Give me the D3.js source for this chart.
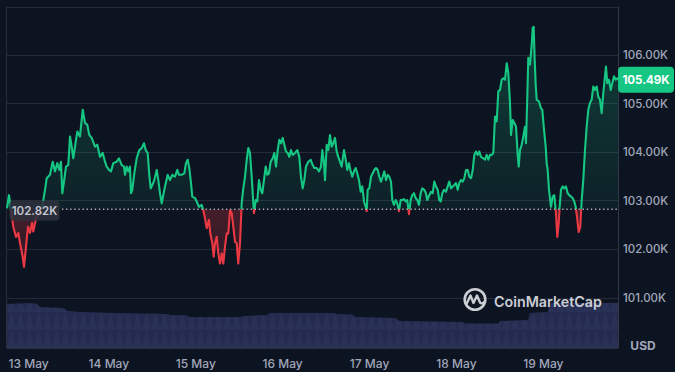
<!DOCTYPE html>
<html><head><meta charset="utf-8">
<script src="https://cdn.jsdelivr.net/npm/d3@7"></script>
<style>
html,body{margin:0;padding:0;background:#0d1421;}
svg{display:block;font-family:Inter,"Noto Sans",sans-serif;}
</style></head>
<body><svg id="chart" width="675" height="372"></svg>
<script>
// ---- data (hours since 12 May 20:00 UTC) ----
const startTime = Date.UTC(2025, 4, 12, 20, 0);
const endHour = 168.76;
const hours = [
0,0.55,1.10,1.74,2.49,3.12,3.78,4.34,4.70,5.25,
5.80,6.35,6.91,7.26,7.82,8.37,9.58,10.50,10.97,11.88,
12.62,13.26,13.89,14.45,14.91,15.27,15.74,16.30,16.93,17.40,
17.87,18.31,19.06,19.42,20.16,20.91,21.54,22.18,22.73,23.39,
24.31,24.94,25.69,26.43,27.07,27.54,28.17,28.72,29.36,30.30,
30.93,31.68,32.32,32.59,33.06,33.50,33.97,34.25,34.61,35.16,
35.82,36.54,37.20,37.84,38.31,38.86,39.30,39.69,40.13,40.68,
41.35,41.79,42.26,42.73,43.17,43.64,44.39,45.02,45.66,46.40,
47.04,47.51,48.25,48.97,49.44,49.91,50.35,50.82,51.18,51.93,
52.40,53.03,53.78,54.22,54.69,55.16,55.79,56.15,56.70,57.09,
57.45,57.92,58.36,58.83,59.30,59.74,60.21,60.68,61.12,61.59,
62.06,62.50,62.97,63.44,63.88,64.35,64.82,65.27,65.74,66.21,
66.65,67.12,67.59,68.03,68.22,68.69,69.13,69.60,70.07,70.51,
70.98,71.45,71.89,72.36,72.83,73.39,73.83,74.30,74.77,75.21,
75.68,76.15,76.59,77.06,77.53,77.97,78.44,78.91,79.55,80.18,
80.73,81.20,81.67,82.11,82.58,83.22,83.88,84.43,84.88,85.54,
86.18,86.73,87.09,87.56,87.83,88.30,88.74,89.21,89.68,90.12,
90.59,91.06,91.50,91.97,92.44,93.08,93.55,93.99,94.46,94.93,
95.37,95.84,96.31,96.75,97.22,97.69,98.13,98.60,99.07,99.35,
99.62,100.07,100.54,101.01,101.45,101.92,102.39,102.83,103.30,103.77,
104.21,104.68,105.15,105.59,106.06,106.42,106.89,107.36,107.80,108.27,
108.74,109.18,109.65,110.12,110.56,111.03,111.50,111.94,112.41,112.88,
113.32,113.79,114.26,114.70,115.25,115.72,116.08,116.64,117.11,117.58,
118.02,118.49,118.96,119.40,119.79,120.23,120.70,121.25,121.72,122.16,
122.63,123.10,123.55,124.01,124.48,124.92,125.39,125.86,126.31,126.78,
127.25,127.69,128.16,128.63,129.07,129.54,130.01,130.45,130.92,131.55,
132.02,132.49,132.94,133.40,133.87,134.32,134.79,135.26,135.70,136.17,
136.64,137.08,137.55,138.02,138.46,138.93,139.21,139.68,140.12,140.59,
141.06,141.33,141.69,142.16,142.60,143.07,143.35,143.71,143.98,144.45,
144.92,145.20,145.47,145.75,146.03,146.30,146.94,147.49,147.85,148.32,
148.79,149.06,149.34,149.70,150.25,150.72,151.16,151.63,151.99,152.38,
152.65,153.01,153.48,153.92,154.39,154.86,155.30,155.77,156.24,156.68,
157.07,157.43,157.90,158.34,158.73,159.17,159.64,160.11,160.55,161.02,
161.49,161.93,162.40,162.87,163.31,163.78,164.25,164.69,165.16,165.44,
165.80,166.27,166.74,167.18,167.65,168.12,168.56,168.76];
const prices = [ // thousand USD
102.84,103.11,102.80,102.46,102.25,102.33,102.05,101.84,101.63,102.05,
102.46,102.33,102.54,102.36,102.56,102.70,102.80,103.22,103.46,103.53,
103.80,103.60,103.77,103.63,103.80,103.15,103.39,103.70,103.73,104.32,
104.11,103.87,104.25,104.42,104.32,104.87,104.60,104.56,104.35,104.29,
104.11,104.15,103.90,103.98,103.80,103.70,103.63,103.60,103.77,103.80,
103.87,103.73,103.70,103.53,103.70,103.60,103.70,103.15,103.22,103.56,
103.87,104.04,104.08,104.18,104.04,103.98,103.53,103.25,103.32,103.42,
103.63,103.42,103.15,102.94,103.11,103.29,103.53,103.42,103.53,103.49,
103.63,103.53,103.53,103.56,103.77,103.84,103.67,103.36,103.08,103.05,
102.98,102.87,102.91,102.80,102.63,102.43,102.60,102.32,102.12,101.84,
102.12,102.25,101.91,101.70,101.91,101.70,102.05,102.32,102.32,102.80,
102.74,102.46,102.15,102.12,101.70,102.12,102.94,103.25,103.49,103.84,
104.08,103.98,103.49,102.94,102.74,103.01,102.98,103.42,103.22,103.15,
103.42,103.70,103.53,103.56,103.80,103.87,103.98,103.70,104.04,104.25,
104.18,104.29,104.15,104.01,103.98,103.90,104.04,103.94,103.98,104.04,
103.90,103.49,103.25,103.42,103.70,103.80,103.84,103.73,103.67,103.67,
103.60,103.70,104.04,103.77,103.42,104.15,104.04,104.35,104.11,104.18,
104.29,104.01,103.90,103.80,103.70,104.04,103.84,103.63,103.77,103.60,
103.49,103.60,103.67,103.56,103.42,103.18,103.29,102.98,102.87,102.78,
103.22,103.25,103.49,103.56,103.63,103.67,103.63,103.49,103.39,103.49,
103.60,103.42,103.53,103.49,103.39,103.01,102.91,103.01,102.94,102.78,
103.01,103.01,103.03,102.98,103.01,102.72,103.01,103.11,103.15,103.05,
103.01,102.91,103.15,103.25,103.22,103.15,103.01,103.11,103.18,103.15,
103.39,103.29,103.22,103.01,102.98,103.15,103.22,103.18,103.29,103.39,
103.25,103.29,103.32,103.36,103.22,103.36,103.42,103.39,103.46,103.63,
103.63,103.49,103.46,103.63,103.94,104.01,103.94,104.01,103.90,103.87,
103.84,103.94,103.84,103.94,103.94,103.98,104.73,104.63,105.25,105.28,
105.49,105.52,105.49,105.83,105.63,105.01,104.35,104.66,104.60,104.52,
103.94,103.70,104.04,104.15,104.32,104.52,104.18,105.14,105.94,105.80,
106.21,106.56,106.58,105.90,105.39,105.08,105.04,104.90,104.87,104.46,
104.11,103.77,103.63,103.22,102.87,103.08,103.11,102.74,102.25,102.53,
102.87,103.22,103.29,103.25,103.29,103.15,103.11,103.08,103.05,102.98,
102.87,102.67,102.35,102.46,103.01,103.42,104.04,104.52,104.87,105.01,
105.08,105.35,105.28,105.35,105.14,105.08,104.80,105.21,105.56,105.76,
105.42,105.49,105.28,105.42,105.56,105.49,105.52,105.49];
const basePrice = 102.82;
const volHours = [0,3.6,6.4,8.3,9.1,11.9,15.5,16.6,20.2,29.3,44.2,45.0,49.7,50.5,64.4,65.7,71.8,72.6,90.0,91.1,95.3,96.1,107.2,108.5,125.7,126.5,135.6,136.2,143.9,144.5,149.4,150.0,168.76];
const volumes = [44,44.5,45,44,41,40.5,40,37,36,35,34,33,32.5,31,31,32,33,35,35,34,33.5,31,30,27,26,24.5,24.5,27,28,35,36,45,45]; // B USD
const priceTicks = [101,102,103,104,105,106,107];
const currency = "USD";
const brand = "CoinMarketCap";

// ---- layout ----
const svg = d3.select("#chart");
const L = 7, R = 618, T = 6.5, B = 348;
const toDate = h => new Date(startTime + h * 3600e3);
const x = d3.scaleUtc().domain([toDate(0), toDate(endHour)]).range([L, R]);
const y = d3.scaleLinear().domain([100, 107]).range([346, 6.5]);
const yv = d3.scaleLinear().domain([0, 48]).range([B, B - 48]);

const pts = hours.map((h, i) => ({t: toDate(h), v: prices[i]}));
const vpts = volHours.map((h, i) => ({t: toDate(h), v: volumes[i]}));
const yBase = y(basePrice);

const defs = svg.append("defs");
const gG = defs.append("linearGradient").attr("id","gfill").attr("gradientUnits","userSpaceOnUse")
  .attr("x1",0).attr("x2",0).attr("y1",y(106.6)).attr("y2",yBase);
gG.append("stop").attr("offset",0).attr("stop-color","#16c784").attr("stop-opacity",0.24);
gG.append("stop").attr("offset",1).attr("stop-color","#16c784").attr("stop-opacity",0.07);
const gR = defs.append("linearGradient").attr("id","rfill").attr("gradientUnits","userSpaceOnUse")
  .attr("x1",0).attr("x2",0).attr("y1",yBase).attr("y2",y(101.6));
gR.append("stop").attr("offset",0).attr("stop-color","#ea3943").attr("stop-opacity",0.26);
gR.append("stop").attr("offset",1).attr("stop-color","#ea3943").attr("stop-opacity",0.12);
defs.append("clipPath").attr("id","above").append("rect").attr("x",0).attr("y",0).attr("width",675).attr("height",yBase);
defs.append("clipPath").attr("id","below").append("rect").attr("x",0).attr("y",yBase).attr("width",675).attr("height",372-yBase);
const pat = defs.append("pattern").attr("id","volpat").attr("patternUnits","userSpaceOnUse")
  .attr("x",L).attr("y",B-18).attr("width",9).attr("height",18);
pat.append("polygon").attr("points","-4.5,0 4.5,0 0,18").attr("fill","#1d2342").attr("opacity",0.45);
pat.append("polygon").attr("points","4.5,0 13.5,0 9,18").attr("fill","#1d2342").attr("opacity",0.45);

// ---- grid ----
svg.append("g").selectAll("line").data(priceTicks).join("line")
  .attr("x1",L).attr("x2",R).attr("y1",d=>Math.round(y(d))+0.5).attr("y2",d=>Math.round(y(d))+0.5)
  .attr("stroke","#262a37").attr("stroke-width",1);
svg.append("line").attr("x1",L-0.5).attr("x2",L-0.5).attr("y1",T).attr("y2",B).attr("stroke","#2a2e3b");
svg.append("line").attr("x1",R+0.5).attr("x2",R+0.5).attr("y1",T).attr("y2",B).attr("stroke","#323645");
svg.append("line").attr("x1",L-0.5).attr("x2",R).attr("y1",B+0.5).attr("y2",B+0.5).attr("stroke","#2a2f3e");

// ---- volume ----
const vArea = d3.area().x(d=>x(d.t)).y0(B).y1(d=>yv(d.v)).curve(d3.curveLinear);
svg.append("path").datum(vpts).attr("d",vArea).attr("fill","#293157");
svg.append("path").datum(vpts).attr("d",vArea).attr("fill","url(#volpat)");

// ---- price ----
const area = d3.area().x(d=>x(d.t)).y0(yBase).y1(d=>y(d.v));
const line = d3.line().x(d=>x(d.t)).y(d=>y(d.v));
svg.append("path").datum(pts).attr("d",area).attr("fill","url(#gfill)").attr("clip-path","url(#above)");
svg.append("path").datum(pts).attr("d",area).attr("fill","url(#rfill)").attr("clip-path","url(#below)");
svg.append("path").datum(pts).attr("d",line).attr("fill","none").attr("stroke","#16c784")
  .attr("stroke-width",2.1).attr("stroke-linejoin","round").attr("clip-path","url(#above)");
svg.append("path").datum(pts).attr("d",line).attr("fill","none").attr("stroke","#ea3943")
  .attr("stroke-width",2.1).attr("stroke-linejoin","round").attr("clip-path","url(#below)");

// baseline dotted
svg.append("line").attr("x1",62).attr("x2",R).attr("y1",yBase).attr("y2",yBase)
  .attr("stroke","#c9ccd4").attr("stroke-width",1.3).attr("stroke-dasharray","1.3,2.8").attr("opacity",0.85);
const bl = svg.append("g");
bl.append("rect").attr("x",9.5).attr("y",yBase-8.5).attr("width",50).attr("height",20).attr("rx",4)
  .attr("fill","#2d313d").attr("opacity",0.88);
bl.append("text").attr("x",34.5).attr("y",yBase+5.5).attr("text-anchor","middle")
  .attr("font-size",11.5).attr("font-weight",600).attr("fill","#c3c7d1").text(d3.format(".2f")(basePrice)+"K");

// ---- axes ----
const yAxis = svg.append("g").attr("transform",`translate(${R+4},0)`)
  .call(d3.axisRight(y).tickValues(priceTicks.filter(d=>d<107)).tickSize(0).tickFormat(d=>d3.format(".2f")(d)+"K"));
yAxis.select(".domain").remove();
yAxis.selectAll("text").attr("font-size",11.5).attr("font-weight",500).attr("fill","#a1a7bb")
  .attr("font-family","Inter, sans-serif").attr("x",1);

const days = d3.utcDay.range(toDate(0), toDate(endHour));
const xAxis = svg.append("g").attr("transform",`translate(0,${B})`)
  .call(d3.axisBottom(x).tickValues(days).tickSize(0).tickFormat(d3.utcFormat("%-d %b")));
xAxis.select(".domain").remove();
xAxis.selectAll("text").attr("font-size",12).attr("font-weight",500).attr("fill","#a1a7bb")
  .attr("font-family","Inter, sans-serif").attr("dy",0).attr("y",20);
xAxis.selectAll(".tick").each(function(d){
  const t = d3.select(this).select("text");
  const w = t.node().getComputedTextLength();
  const px = x(d);
  if (px - w/2 < 8) t.attr("x", 8 + w/2 - px);
});

// last price badge
const last = prices[prices.length-1];
const badge = svg.append("g");
badge.append("rect").attr("x",R).attr("y",y(last)-13).attr("width",56).attr("height",26).attr("rx",4).attr("fill","#16c784");
badge.append("text").attr("x",R+28).attr("y",y(last)+4.5).attr("text-anchor","middle")
  .attr("font-size",11.5).attr("font-weight",700).attr("fill","#ffffff").text(d3.format(".2f")(last)+"K");

// currency
svg.append("text").attr("x",643).attr("y",350).attr("text-anchor","middle").attr("font-size",12)
  .attr("font-weight",700).attr("fill","#a1a7bb").text(currency);

// watermark
const wm = svg.append("g").attr("opacity",0.92);
wm.append("circle").attr("cx",475).attr("cy",299.5).attr("r",10.3).attr("fill","none").attr("stroke","#dcdee3").attr("stroke-width",2.6);
wm.append("path").attr("d","M466.5,304 L470.5,295.5 L473.5,303 L477,295.5 L480,302.5 Q481.5,304.5 484,302")
  .attr("fill","none").attr("stroke","#dcdee3").attr("stroke-width",2.4).attr("stroke-linejoin","round").attr("stroke-linecap","round");
const wt = wm.append("text").attr("x",494).attr("y",306.5).attr("font-size",16).attr("font-weight",600)
  .attr("fill","#dcdee3").text(brand);
const ww = wt.node().getComputedTextLength();
wt.attr("font-size", 16*108/ww);
</script></body></html>
